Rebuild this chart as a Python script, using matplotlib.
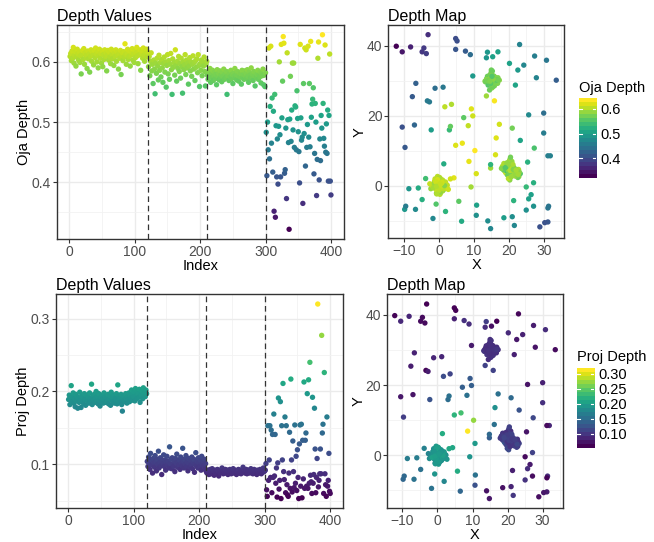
import numpy as np
import matplotlib.pyplot as plt

plt.rcParams['font.family'] = ['Liberation Sans', 'DejaVu Sans']

# ---- cluster 1: index 1-120, around (0, 0)
c1_x = [0.3,-0.8,1.2,-0.1,0.6,-1.5,0.9,0.2,-0.4,1.8,-1.1,0.5,-0.2,0.7,-0.9,1.4,0.0,-0.6,0.4,-1.9,1.1,-0.3,0.8,-1.2,0.1,2.1,-0.7,0.5,-0.1,-1.4,
        0.9,0.3,-0.5,1.6,-0.9,0.2,-2.3,0.7,1.0,-0.4,0.6,-1.0,0.1,1.3,-0.2,-0.8,0.4,2.4,-1.6,0.0,0.8,-0.3,1.1,-0.6,0.3,-1.3,0.5,1.7,-0.1,-0.9,
        0.2,1.0,-0.5,-1.8,0.6,0.4,-0.2,1.5,-1.1,0.9,-0.7,0.1,2.0,-0.4,0.3,-1.4,0.7,-0.2,1.2,-0.8,0.0,0.5,-2.6,1.0,-0.3,0.6,-1.0,1.9,0.2,-0.6,
        0.8,-1.2,0.4,-0.1,1.4,-0.5,0.1,-1.7,0.9,2.7,-0.8,0.3,-0.4,1.1,-1.3,0.6,0.0,-0.9,1.6,-0.2,0.7,-0.6,0.2,1.2,-1.5,0.4,-0.3,0.9,-0.7,0.5]
c1_y = [-0.5,0.9,0.2,-1.3,1.1,-0.2,-0.8,1.6,0.4,-0.6,0.7,-1.9,0.1,1.3,-0.4,0.5,-1.1,0.8,2.0,-0.3,-1.5,0.6,0.0,1.2,-0.7,0.3,-2.2,0.9,1.7,-0.1,
        0.4,-1.0,1.4,-0.5,0.2,2.3,-0.9,-0.2,0.7,-1.6,1.0,0.3,-0.4,-1.2,1.8,0.6,-0.7,0.1,-0.3,1.5,-1.4,0.8,-0.1,0.5,-2.5,1.1,-0.6,0.2,0.9,-1.0,
        1.3,-0.3,0.6,0.1,-1.7,0.8,-0.5,-0.2,1.9,0.4,-1.2,0.7,-0.8,2.6,0.0,-0.4,1.2,-1.5,0.3,0.9,-0.6,-2.0,0.5,1.6,-0.1,-0.9,0.2,1.0,-1.3,0.6,
        -0.2,0.4,-1.8,1.4,-0.7,0.1,2.1,-0.4,0.8,-1.1,0.3,-0.5,1.7,-0.9,0.6,-0.3,-1.4,1.1,0.0,-0.8,0.7,-2.4,0.2,1.3,-0.6,0.5,-1.0,0.9,-0.2,0.4]
c1_oja = [.609,.614,.602,.618,.606,.624,.598,.611,.617,.593,.608,.621,.613,.603,.616,.599,.610,.580,.612,.619,.604,.622,.596,.615,.607,.611,.589,.618,.605,.613,
          .583,.609,.620,.601,.616,.611,.595,.619,.607,.623,.613,.600,.617,.590,.610,.621,.606,.614,.598,.618,.592,.612,.604,.620,.609,.615,.585,.611,.619,.603,
          .616,.608,.597,.621,.612,.605,.618,.594,.614,.609,.620,.601,.616,.611,.588,.613,.606,.619,.579,.610,.615,.602,.617,.608,.630,.612,.596,.614,.621,.604,
          .609,.618,.593,.611,.616,.622,.603,.613,.599,.619,.607,.615,.624,.610,.597,.617,.612,.620,.586,.614,.618,.606,.623,.611,.601,.617,.613,.621,.608,.616]
c1_proj = [.189,.195,.182,.191,.208,.186,.193,.198,.184,.190,.179,.196,.187,.193,.177,.191,.185,.199,.188,.178,.194,.186,.192,.183,.197,.189,.181,.195,.190,.187,
           .193,.184,.198,.190,.186,.210,.182,.194,.189,.196,.185,.191,.200,.187,.193,.183,.197,.188,.180,.192,.186,.195,.190,.184,.198,.189,.193,.185,.191,.187,
           .196,.183,.190,.194,.181,.199,.188,.192,.186,.195,.184,.191,.189,.197,.183,.209,.187,.193,.190,.185,.196,.182,.173,.191,.194,.188,.186,.197,.190,.184,
           .193,.189,.198,.186,.195,.191,.202,.188,.196,.193,.199,.187,.204,.194,.190,.200,.197,.192,.203,.185,.198,.195,.201,.190,.205,.196,.199,.193,.202,.197]

# ---- cluster 2: index 121-210, around (20, 5)
c2_x = [20.5,19.3,21.2,20.0,18.7,22.4,20.8,19.7,21.5,20.2,19.0,22.9,20.6,19.9,21.1,18.4,20.3,21.8,19.5,20.9,22.1,20.1,19.2,21.4,20.7,18.9,20.4,23.3,19.8,21.0,
        20.2,19.6,22.6,20.8,19.1,21.3,20.0,18.6,21.7,20.5,19.4,22.2,20.9,19.9,21.2,20.3,18.2,21.6,20.1,19.7,22.8,20.6,19.3,21.0,20.4,21.9,19.8,20.7,18.8,22.3,
        20.0,21.4,19.5,20.8,22.0,19.2,20.5,21.1,19.9,23.0,20.3,18.5,21.5,20.6,19.6,22.5,20.2,21.8,19.4,20.9,17.9,21.2,20.1,22.7,19.7,20.4,21.3,19.0,20.7,22.1]
c2_y = [4.6,5.9,3.8,5.2,4.3,3.1,6.4,4.9,4.0,7.1,5.5,2.6,4.2,5.8,3.5,5.0,6.7,4.4,3.2,5.6,3.9,4.8,6.1,2.9,5.3,4.5,7.6,3.4,5.1,4.1,
        5.7,4.7,2.3,6.0,3.7,5.4,4.4,6.3,3.3,5.0,4.8,3.6,6.9,5.3,4.1,1.6,5.5,4.0,6.6,3.0,4.6,5.9,4.3,3.8,5.1,2.7,6.2,4.9,5.6,3.5,
        4.2,5.0,6.5,3.6,4.7,5.3,8.1,4.4,2.0,3.9,5.7,4.5,4.0,6.1,5.2,2.9,4.8,3.4,5.4,4.1,4.9,6.0,3.7,3.2,5.8,4.3,4.6,5.1,2.5,4.4]
c2_oja = [.592,.609,.577,.601,.615,.585,.596,.564,.603,.588,.547,.598,.581,.606,.593,.570,.611,.586,.599,.575,.604,.590,.566,.597,.608,.583,.600,.558,.594,.612,
          .580,.602,.571,.596,.614,.587,.546,.605,.591,.599,.578,.620,.594,.568,.601,.589,.609,.584,.597,.573,.606,.592,.548,.600,.587,.595,.612,.579,.603,.590,
          .598,.563,.593,.607,.585,.600,.576,.596,.610,.588,.599,.569,.602,.591,.605,.582,.612,.594,.559,.597,.586,.603,.577,.600,.593,.608,.584,.560,.596,.601]
c2_proj = [.104,.097,.110,.101,.093,.115,.106,.099,.088,.108,.102,.096,.112,.104,.091,.107,.100,.118,.095,.103,.109,.098,.086,.105,.101,.113,.097,.106,.092,.103,
           .111,.099,.104,.095,.124,.101,.107,.094,.109,.100,.097,.105,.090,.108,.102,.114,.096,.103,.099,.106,.093,.110,.101,.098,.122,.104,.095,.107,.100,.112,
           .097,.103,.091,.108,.101,.096,.105,.099,.110,.094,.103,.107,.089,.100,.116,.098,.104,.095,.109,.102,.097,.106,.092,.111,.100,.104,.098,.107,.093,.101]

# ---- cluster 3: index 211-300, around (15, 30)
c3_x = [15.2,14.3,16.0,14.9,15.6,13.8,15.1,16.4,14.6,15.4,14.0,15.8,15.0,16.7,14.4,15.3,13.5,15.9,14.8,16.2,15.1,14.1,15.5,16.9,14.7,15.2,13.9,16.1,15.0,14.5,
        15.7,14.2,16.5,15.3,14.8,15.0,13.2,16.3,14.9,15.6,14.4,15.1,17.3,14.6,15.4,13.7,15.8,15.0,16.6,14.3,15.2,14.9,16.1,13.6,15.5,14.7,15.9,15.1,14.2,16.4,
        15.3,14.0,15.7,14.8,16.8,15.1,14.5,15.6,13.4,15.0,16.2,14.7,15.4,14.1,15.9,15.2,16.0,14.6,15.3,13.9,15.8,14.9,16.5,15.1,14.4,15.6,14.8,17.0,15.2,14.6]
c3_y = [30.2,29.4,30.9,31.3,29.7,30.5,28.8,30.1,31.6,29.9,30.7,29.2,32.4,30.3,29.6,31.0,30.0,28.5,30.6,29.8,31.8,30.4,29.1,30.8,30.2,27.9,31.2,29.5,30.6,30.0,
        29.3,31.1,30.4,28.9,30.7,33.0,29.8,30.3,31.5,29.6,30.9,28.6,30.1,31.4,29.4,30.5,29.9,32.0,30.2,29.0,30.8,31.7,29.7,30.3,28.3,30.6,29.5,31.0,30.1,29.3,
        30.7,29.9,31.3,30.4,29.2,30.0,27.3,30.8,29.6,31.9,30.2,29.8,30.5,28.7,31.1,30.0,29.4,30.6,32.7,29.9,30.3,28.9,30.1,31.5,29.7,30.4,29.1,30.2,31.2,29.8]
c3_oja = [.578,.571,.584,.575,.589,.566,.580,.574,.586,.569,.577,.583,.572,.579,.562,.587,.576,.581,.570,.585,.573,.578,.567,.582,.576,.588,.571,.579,.574,.584,
          .546,.577,.583,.569,.580,.575,.586,.572,.579,.564,.581,.576,.589,.573,.578,.570,.584,.577,.568,.582,.575,.580,.563,.586,.574,.579,.571,.585,.577,.581,
          .572,.587,.576,.566,.583,.578,.573,.590,.575,.580,.569,.584,.577,.560,.582,.574,.579,.586,.571,.578,.575,.583,.565,.580,.577,.588,.562,.578,.559,.582]
c3_proj = [.090,.088,.092,.089,.086,.091,.093,.087,.090,.094,.088,.091,.085,.092,.089,.090,.087,.093,.091,.084,.090,.088,.092,.089,.095,.090,.087,.091,.089,.093,
           .088,.090,.092,.086,.091,.089,.093,.090,.087,.091,.089,.094,.088,.090,.092,.089,.086,.091,.090,.093,.088,.092,.089,.087,.091,.090,.096,.089,.092,.088,
           .090,.093,.087,.091,.089,.092,.088,.090,.094,.089,.091,.087,.090,.093,.088,.091,.090,.086,.092,.089,.091,.088,.093,.090,.087,.092,.089,.095,.090,.091]

# ---- scattered points: index 301-400
out_x = [25.0,-9.7,18.6,-3.3,17.3,30.0,27.1,16.2,31.9,3.0,
         33.6,6.5,-8.1,-3.8,-10.5,-9.8,31.2,21.6,4.8,13.9,
         9.2,14.0,4.8,16.4,16.9,3.3,15.9,4.3,7.6,-6.6,
         -8.6,-4.8,8.4,26.4,23.1,-12.2,25.7,21.0,27.9,1.4,
         13.6,27.1,14.8,30.0,25.4,-4.8,-2.7,27.3,15.4,10.7,
         1.2,5.2,9.3,10.8,14.8,-6.7,-3.1,7.1,21.0,3.3,
         -7.0,9.7,-9.5,22.6,10.7,25.7,5.7,27.4,6.7,20.2,
         21.4,25.0,-0.8,-7.6,31.4,1.9,-2.2,-4.3,-1.1,3.6,
         8.6,30.3,24.3,9.0,23.3,13.6,10.3,14.8,-1.7,31.2,
         4.8,30.8,9.7,31.2,-5.9,-10.5,21.9,1.7,28.9,-3.6]
out_y = [-7.0,10.9,-9.2,24.2,17.5,20.7,0.8,8.8,8.5,15.9,
         30.1,-10.2,39.6,2.0,38.2,-6.8,-10.4,-11.4,42.0,38.1,
         -0.4,-10.1,38.9,13.6,38.2,16.9,24.2,2.2,38.4,29.2,
         -0.9,38.2,17.1,-2.6,40.3,39.8,-3.8,16.4,30.8,6.2,
         25.6,-5.9,5.0,15.0,6.7,-4.0,23.9,10.7,36.8,-8.5,
         28.1,41.3,21.9,-5.6,-12.3,-6.8,43.1,19.4,-8.9,1.9,
         17.3,19.9,-5.9,33.0,3.4,20.2,-4.5,37.0,12.1,34.9,
         -4.3,-0.4,-5.3,25.4,-5.9,-7.4,15.9,39.3,27.8,23.2,
         6.9,-10.6,34.4,37.4,12.9,36.5,10.0,6.0,-9.4,8.5,
         11.5,35.8,31.3,-6.4,-0.7,16.7,28.7,22.5,-11.8,37.7]
out_oja = [.483,.411,.500,.454,.623,.439,.526,.626,.465,.540,
           .417,.518,.352,.546,.342,.494,.409,.472,.397,.493,
           .600,.479,.409,.629,.507,.568,.642,.631,.415,.421,
           .490,.373,.615,.504,.466,.322,.505,.576,.468,.520,
           .598,.487,.598,.458,.527,.525,.454,.552,.506,.484,
           .451,.399,.629,.507,.470,.475,.365,.564,.481,.623,
           .427,.620,.458,.496,.626,.475,.564,.459,.634,.508,
           .530,.538,.557,.414,.448,.531,.500,.378,.438,.606,
           .633,.404,.472,.436,.511,.490,.645,.531,.473,.460,
           .628,.450,.497,.448,.520,.402,.511,.613,.402,.379]
out_proj = [.092,.101,.065,.056,.153,.078,.106,.153,.082,.147,
            .061,.141,.082,.169,.084,.141,.074,.095,.055,.102,
            .191,.066,.078,.186,.053,.153,.106,.211,.090,.079,
            .165,.061,.153,.072,.058,.056,.088,.144,.067,.217,
            .106,.062,.132,.090,.068,.154,.074,.111,.064,.120,
            .082,.053,.128,.154,.070,.155,.054,.133,.080,.213,
            .067,.133,.143,.070,.197,.067,.216,.074,.240,.085,
            .076,.060,.192,.074,.086,.177,.121,.061,.082,.108,
            .320,.069,.078,.087,.121,.087,.277,.143,.155,.060,
            .226,.087,.072,.056,.165,.070,.078,.115,.063,.060]

breaks = [120, 210, 300]

x = np.array(c1_x + c2_x + c3_x + out_x)
y = np.array(c1_y + c2_y + c3_y + out_y)
oja = np.array(c1_oja + c2_oja + c3_oja + out_oja)
proj = np.array(c1_proj + c2_proj + c3_proj + out_proj)
idx = np.arange(1, len(x) + 1)

TICK = 10
LABEL = 10.5
TITLE = 11.5


def expand(v):
    lo, hi = np.min(v), np.max(v)
    r = hi - lo
    return lo - 0.05 * r, hi + 0.05 * r


def style(ax, major, minor):
    for s in ax.spines.values():
        s.set_color('#333333')
        s.set_linewidth(1.0)
    ax.set_xticks(major[0])
    ax.set_yticks(major[1])
    ax.set_xticks(minor[0], minor=True)
    ax.set_yticks(minor[1], minor=True)
    ax.grid(True, which='major', color='#EBEBEB', linewidth=1.0)
    ax.grid(True, which='minor', color='#F2F2F2', linewidth=0.6)
    ax.set_axisbelow(True)
    ax.tick_params(which='major', length=2.75, width=0.8, color='#333333',
                   labelsize=TICK, labelcolor='#4D4D4D', pad=1.5)
    ax.tick_params(which='minor', length=0)


def colorbar(fig, rect, vmin, vmax, ticks, labels, title):
    cax = fig.add_axes(rect)
    grad = np.linspace(vmin, vmax, 20).reshape(-1, 1)
    cax.imshow(grad, aspect='auto', cmap='viridis', origin='lower',
               extent=[0, 1, vmin, vmax], vmin=vmin, vmax=vmax)
    cax.set_xlim(0, 1)
    cax.set_ylim(vmin, vmax)
    cax.set_xticks([])
    cax.yaxis.tick_right()
    cax.set_yticks(ticks)
    cax.set_yticklabels(labels)
    cax.tick_params(axis='y', length=0, labelsize=LABEL, pad=3)
    for s in cax.spines.values():
        s.set_visible(False)
    for t in ticks:
        cax.plot([0, 0.2], [t, t], color='white', lw=0.8)
        cax.plot([0.8, 1], [t, t], color='white', lw=0.8)
    cax.text(0, 1.04, title, transform=cax.transAxes, fontsize=LABEL,
             ha='left', va='bottom')


fig = plt.figure(figsize=(6.54, 5.42), dpi=100)

panels = [
    (oja, 'Oja Depth', [0.4, 0.5, 0.6], [0.35, 0.45, 0.55, 0.65],
     [0.0872, 0.559, 0.4388, 0.3948], [0.5937, 0.5603, 0.2691, 0.3936],
     [0.8853, 0.6721, 0.026, 0.1476], [0.4, 0.5, 0.6], ['0.4', '0.5', '0.6']),
    (proj, 'Proj Depth', [0.1, 0.2, 0.3], [0.05, 0.15, 0.25],
     [0.0849, 0.0622, 0.4400, 0.3948], [0.5913, 0.0622, 0.2700, 0.3948],
     [0.8818, 0.174, 0.0265, 0.1476], [0.10, 0.15, 0.20, 0.25, 0.30],
     ['0.10', '0.15', '0.20', '0.25', '0.30']),
]

for depth, name, yt, ymt, rl, rr, rc, ct, cl in panels:
    vmin, vmax = depth.min(), depth.max()

    ax = fig.add_axes(rl)
    ax.scatter(idx, depth, c=depth, cmap='viridis', vmin=vmin, vmax=vmax,
               s=15, linewidths=0)
    for b in breaks:
        ax.axvline(b, color='#333333', linewidth=0.9, linestyle=(0, (4.5, 3)))
    ax.set_xlim(*expand(idx))
    ax.set_ylim(*expand(depth))
    style(ax, ([0, 100, 200, 300, 400], yt), ([50, 150, 250, 350], ymt))
    ax.set_yticklabels([f'{v:.1f}' for v in yt])
    ax.set_title('Depth Values', loc='left', fontsize=TITLE, pad=3)
    ax.set_xlabel('Index', fontsize=LABEL, labelpad=0)
    ax.set_ylabel(name, fontsize=LABEL, labelpad=0.5)

    ax2 = fig.add_axes(rr)
    ax2.scatter(x, y, c=depth, cmap='viridis', vmin=vmin, vmax=vmax,
                s=15, linewidths=0)
    ax2.set_xlim(*expand(x))
    ax2.set_ylim(*expand(y))
    style(ax2, ([-10, 0, 10, 20, 30], [0, 20, 40]), ([-5, 5, 15, 25, 35], [-10, 10, 30]))
    ax2.set_title('Depth Map', loc='left', fontsize=TITLE, pad=3)
    ax2.set_xlabel('X', fontsize=LABEL, labelpad=0)
    ax2.set_ylabel('Y', fontsize=LABEL, labelpad=0)

    colorbar(fig, rc, vmin, vmax, ct, cl, name)

fig.savefig('out.png', dpi=100)
